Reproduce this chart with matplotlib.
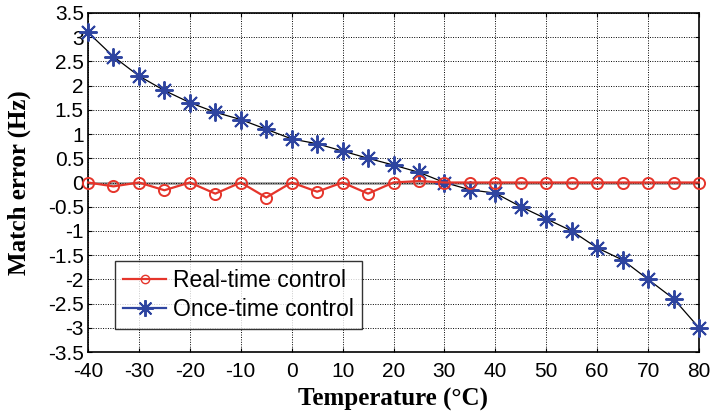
import matplotlib.pyplot as plt
from matplotlib.lines import Line2D

# Data
temperature = [-40, -35, -30, -25, -20, -15, -10, -5, 0, 5, 10, 15, 20,
               25, 30, 35, 40, 45, 50, 55, 60, 65, 70, 75, 80]
real_time = [0, -0.08, 0, -0.16, 0, -0.23, 0, -0.31, 0, -0.19, 0, -0.23, 0,
             0.03, 0, 0, 0, 0, 0, 0, 0, 0, 0, 0, 0]
once_time = [3.1, 2.6, 2.2, 1.9, 1.65, 1.45, 1.3, 1.1, 0.9, 0.8, 0.65, 0.5, 0.36,
             0.21, 0.0, -0.15, -0.22, -0.5, -0.75, -1.0, -1.35, -1.6, -2.0, -2.4, -3.0]
xticks = list(range(-40, 81, 10))
yticks = [v / 2 for v in range(-7, 8)]

red = "#e5352b"
blue = "#2e44a0"
star = (8, 2, 0)  # asterisk like MATLAB '*'

fig = plt.figure(figsize=(7.13, 4.13), dpi=100)
ax = fig.add_axes([88 / 713, 1 - 352 / 413, 611 / 713, 339 / 413])

ax.axhline(0, color="#a0a0a0", lw=2, zorder=1)
ax.plot(temperature, once_time, color="black", lw=0.9, zorder=2)
ax.plot(temperature, once_time, ls="none", marker=star, ms=13, mfc=blue, mec=blue,
        mew=1.4, zorder=3, clip_on=False)
ax.plot(temperature, real_time, color=red, lw=1.6, marker="o", ms=8, mfc="none",
        mec=red, mew=1.4, zorder=4, clip_on=False)

ax.set_xlim(-40, 80)
ax.set_ylim(-3.5, 3.5)
ax.set_xticks(xticks)
ax.set_yticks(yticks)
ax.set_xticklabels([str(t) for t in xticks])
ax.set_yticklabels(["%g" % v for v in yticks])
ax.grid(True, ls=(0, (1, 1.5)), color="black", lw=0.7)
ax.tick_params(direction="in", top=True, right=True, length=3, labelsize=15)
ax.tick_params(axis="x", pad=7)
ax.tick_params(axis="y", pad=3)
for lab in ax.get_xticklabels() + ax.get_yticklabels():
    lab.set_family("Liberation Sans")
for s in ax.spines.values():
    s.set_linewidth(1.2)

ax.set_xlabel("Temperature (°C)", family="Liberation Serif", weight="bold",
              fontsize=18, labelpad=5)
ax.set_ylabel("Match error (Hz)", family="Liberation Serif", weight="bold",
              fontsize=18, labelpad=12)

handles = [
    Line2D([], [], color=red, lw=1.6, marker="o", ms=6, mfc="none", mec=red),
    Line2D([], [], color=blue, lw=1.6, marker=star, ms=12, mfc=blue, mec=blue,
           mew=1.4),
]
leg = ax.legend(handles, ["Real-time control", "Once-time control"],
                loc="lower left", bbox_to_anchor=(0.044, 0.068),
                prop={"family": "Liberation Sans", "size": 16.5},
                frameon=True, fancybox=False, edgecolor="black",
                handlelength=1.9, handletextpad=0.3, borderpad=0.35,
                labelspacing=0.25, borderaxespad=0)
leg.get_frame().set_linewidth(1.0)

fig.savefig("out.png", dpi=100)
